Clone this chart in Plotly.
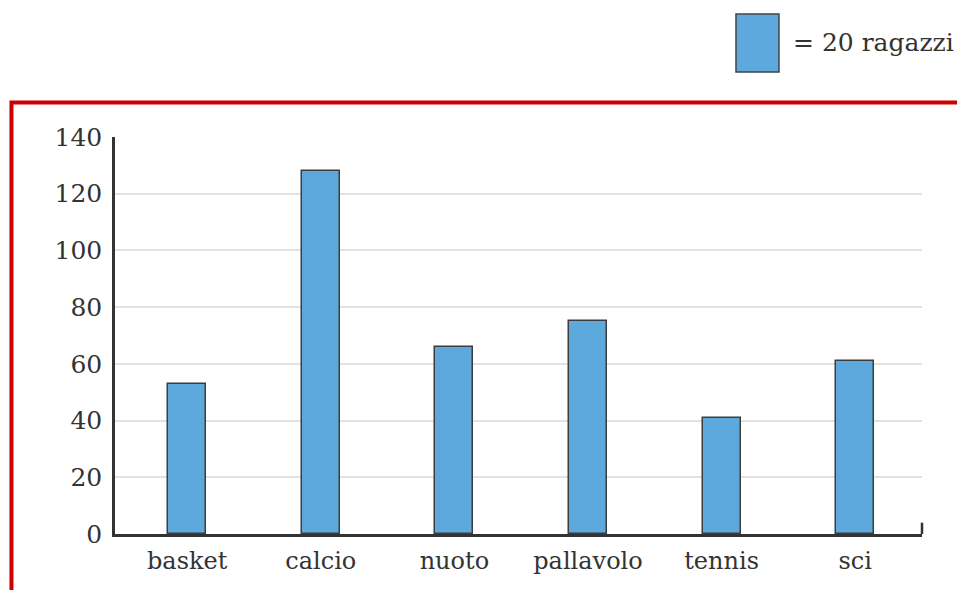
import plotly.graph_objects as go

categories = ["basket", "calcio", "nuoto", "pallavolo", "tennis", "sci"]
values = [53, 128, 66, 75, 41, 61]
y_ticks = [0, 20, 40, 60, 80, 100, 120, 140]
legend_text = "= 20 ragazzi"

BAR = "#5DA9DD"
EDGE = "#3c3c3c"
TXT = "#333333"
FONT = "DejaVu Serif"

fig = go.Figure()
fig.add_trace(go.Bar(
    x=categories, y=values, width=0.284,
    marker=dict(color=BAR, line=dict(color=EDGE, width=1.5)),
    showlegend=False, hoverinfo="skip",
))

fig.update_layout(
    width=957, height=590,
    margin=dict(l=115, r=35, t=137, b=56),
    paper_bgcolor="white", plot_bgcolor="white",
    font=dict(family=FONT, color=TXT, size=23),
    bargap=0,
    xaxis=dict(
        type="category", range=[-0.54, 5.50],
        showline=True, linecolor="#333333", linewidth=2.5,
        showgrid=False, ticks="", zeroline=False, ticklabelstandoff=3,
        tickfont=dict(family=FONT, size=24, color=TXT),
    ),
    yaxis=dict(
        range=[0, 140], tickvals=y_ticks,
        showline=True, linecolor="#333333", linewidth=2.5,
        showgrid=True, gridcolor="#e2e2e2", gridwidth=1.5,
        zeroline=False, ticks="", ticklabelstandoff=5,
        tickfont=dict(family=FONT, size=25, color=TXT),
    ),
    shapes=[
        # red frame
        dict(type="rect", xref="paper", yref="paper",
             x0=-0.1283, x1=1.06, y0=-0.2, y1=1.0869,
             line=dict(color="#CC0000", width=4), fillcolor="rgba(0,0,0,0)", layer="above"),
        # right end tick of x axis
        dict(type="line", xref="paper", yref="y", x0=1, x1=1, y0=0, y1=4,
             line=dict(color="#333333", width=2.5)),
        # legend box
        dict(type="rect", xref="paper", yref="paper",
             x0=0.7695, x1=0.8228, y0=1.1637, y1=1.3098,
             fillcolor=BAR, line=dict(color="#444444", width=1.5)),
    ],
    annotations=[
        dict(text=legend_text, xref="paper", yref="paper", x=0.838, y=1.2368,
             xanchor="left", yanchor="middle", showarrow=False,
             font=dict(family=FONT, size=25, color=TXT)),
    ],
)

fig.write_html("out.html")
